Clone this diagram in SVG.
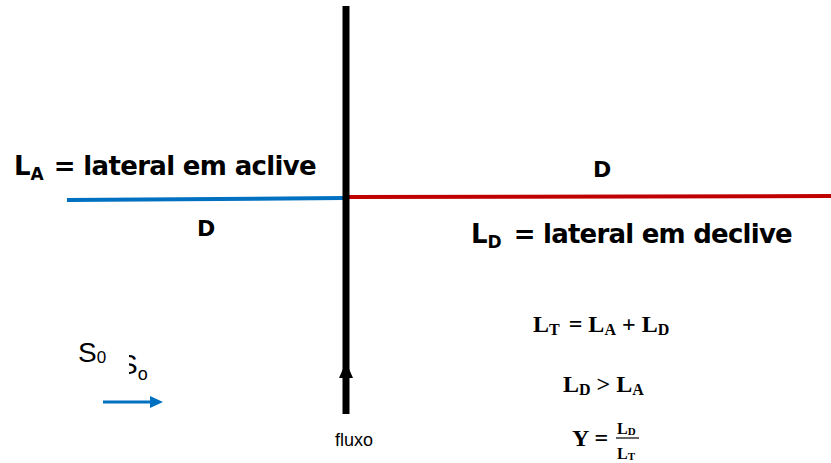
<svg xmlns="http://www.w3.org/2000/svg" width="831" height="463" viewBox="0 0 831 463">
<style>
.lbl{font-family:"DejaVu Sans",Verdana,sans-serif;font-weight:bold;fill:#000}
.frm{font-family:"Liberation Serif","Times New Roman",serif;font-weight:bold;fill:#000}
.reg{font-family:"Liberation Sans",Arial,sans-serif;fill:#000}
</style>
<defs>
<clipPath id="clipS"><rect x="129" y="340" width="40" height="50"/></clipPath>
</defs>
<rect width="831" height="463" fill="#fff"/>
<g id="connectors">
<line x1="67" y1="200" x2="345" y2="198" stroke="#0070C0" stroke-width="4"/>
<line x1="349" y1="197" x2="831" y2="196" stroke="#C00000" stroke-width="4"/>
<line x1="346" y1="414" x2="346" y2="6" stroke="#000" stroke-width="7"/>
<path d="M346,362 L353,378 L339,378 z" fill="#000"/>
<line x1="103" y1="402" x2="151" y2="402" stroke="#0070C0" stroke-width="3"/>
<path d="M163,402 L150,396 L150,408 z" fill="#0070C0"/>
</g>
<g id="label-LA">
<text class="lbl" x="14" y="175" font-size="26">L<tspan font-size="17" dy="5">A</tspan><tspan dy="-5" dx="10" textLength="263">= lateral em aclive</tspan></text>
</g>
<g id="label-D-left"><text class="lbl" x="197" y="236" font-size="22">D</text></g>
<g id="label-D-right"><text class="lbl" x="593" y="177" font-size="22">D</text></g>
<g id="label-LD">
<text class="lbl" x="471" y="243" font-size="26">L<tspan font-size="17" dy="5">D</tspan><tspan dy="-5" dx="12" textLength="279">= lateral em declive</tspan></text>
</g>
<g id="eq1"><text class="frm" x="533" y="332" font-size="24">L<tspan font-size="16" dy="3">T</tspan><tspan dy="-3" dx="9">= L</tspan><tspan font-size="16" dy="3">A</tspan><tspan dy="-3" dx="6">+</tspan><tspan dx="6">L</tspan><tspan font-size="16" dy="3">D</tspan></text></g>
<g id="eq2"><text class="frm" x="563" y="392" font-size="24">L<tspan font-size="16" dy="3">D</tspan><tspan dy="-3"> &gt; L</tspan><tspan font-size="16" dy="3">A</tspan></text></g>
<g id="eq3">
<text class="frm" x="572" y="446" font-size="24">Y =</text>
<text class="frm" x="617" y="434" font-size="16">L<tspan font-size="11" dy="1">D</tspan></text>
<line x1="616" y1="438" x2="639" y2="438" stroke="#000" stroke-width="1.2"/>
<text class="frm" x="617" y="459" font-size="16">L<tspan font-size="11" dy="1">T</tspan></text>
</g>
<g id="label-S0"><text class="reg" x="78" y="362" font-size="28">S<tspan font-size="17" dy="1">0</tspan></text></g>
<g id="label-So-clipped"><text class="reg" x="119" y="374" font-size="28" clip-path="url(#clipS)">S<tspan font-size="18" dy="6">o</tspan></text></g>
<g id="label-fluxo"><text class="reg" x="335" y="446" font-size="18">fluxo</text></g>
</svg>
